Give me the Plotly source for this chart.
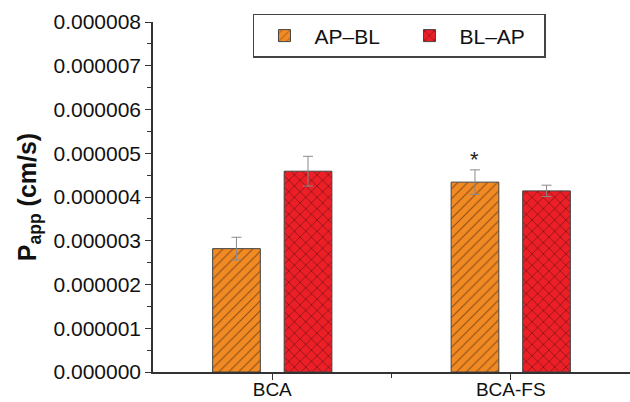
import plotly.graph_objects as go

categories = ["BCA", "BCA-FS"]
ap_bl = [2.82e-6, 4.34e-6]
ap_bl_err = [0.26e-6, 0.28e-6]
bl_ap = [4.59e-6, 4.14e-6]
bl_ap_err = [0.34e-6, 0.13e-6]
y_ticks = [0, 1e-6, 2e-6, 3e-6, 4e-6, 5e-6, 6e-6, 7e-6, 8e-6]
sig_marks = ["", "*"]

FONT = "Liberation Sans, Arial, sans-serif"
x_idx = list(range(len(categories)))

fig = go.Figure()
fig.add_trace(go.Bar(
    name="AP\u2013BL", x=x_idx, y=ap_bl,
    width=0.2, offset=-0.25,
    marker=dict(color="#F28A24", line=dict(color="#444444", width=1),
                pattern=dict(shape="/", fgcolor="#1a1008", size=7, solidity=0.15)),
    error_y=dict(type="data", array=ap_bl_err, color="#8a8a8a", thickness=1, width=5),
))
fig.add_trace(go.Bar(
    name="BL\u2013AP", x=x_idx, y=bl_ap,
    width=0.2, offset=0.05,
    marker=dict(color="#EC1F27", line=dict(color="#444444", width=1),
                pattern=dict(shape="x", fgcolor="#140606", size=8, solidity=0.18)),
    error_y=dict(type="data", array=bl_ap_err, color="#8a8a8a", thickness=1, width=5),
))

for i, m in enumerate(sig_marks):
    if m:
        fig.add_annotation(x=i - 0.15, y=ap_bl[i] + ap_bl_err[i], text=m,
                           showarrow=False, yanchor="bottom", yshift=-4,
                           font=dict(size=22, color="#222", family=FONT))

fig.update_layout(
    width=630, height=402,
    margin=dict(l=153, r=0, t=22, b=30, autoexpand=False),
    paper_bgcolor="white", plot_bgcolor="white",
    font=dict(family=FONT, color="#111"),
    barmode="overlay",
    showlegend=True,
    legend=dict(orientation="h", x=0.2096, y=1.023, xanchor="left", yanchor="top",
                bordercolor="#444", borderwidth=1.5, bgcolor="white",
                font=dict(size=21, family=FONT), itemwidth=50,
                entrywidth=80, entrywidthmode="pixels",
                traceorder="normal"),
    xaxis=dict(range=[-0.5, 1.5], tickmode="array", tickvals=x_idx, ticktext=categories,
               showline=True, linecolor="#333", linewidth=1.5, ticks="outside",
               ticklen=6, tickcolor="#333", showgrid=False, zeroline=False,
               automargin=False, ticklabelstandoff=-7,
               tickfont=dict(size=19, family=FONT),
               minor=dict(tickmode="array", tickvals=[0.5], ticks="outside", ticklen=4,
                          tickcolor="#333", showgrid=False)),
    yaxis=dict(range=[0, 8e-6], tickmode="array", tickvals=y_ticks,
               ticktext=[f"{v:.6f}" for v in y_ticks],
               showline=True, linecolor="#333", linewidth=1.5, ticks="outside",
               ticklen=6, tickcolor="#333", showgrid=False, zeroline=False,
               automargin=False,
               tickfont=dict(size=21, family=FONT),
               minor=dict(ticks="outside", ticklen=4, tickcolor="#333", dtick=0.5e-6,
                          showgrid=False),
               title=dict(text="<b>P<sub>app</sub> (cm/s)</b>", standoff=10,
                          font=dict(size=25, family=FONT))),
)

fig.write_html("out.html", config={"displayModeBar": False},
               post_script="document.body.style.margin='0';document.body.style.overflow='hidden';")
